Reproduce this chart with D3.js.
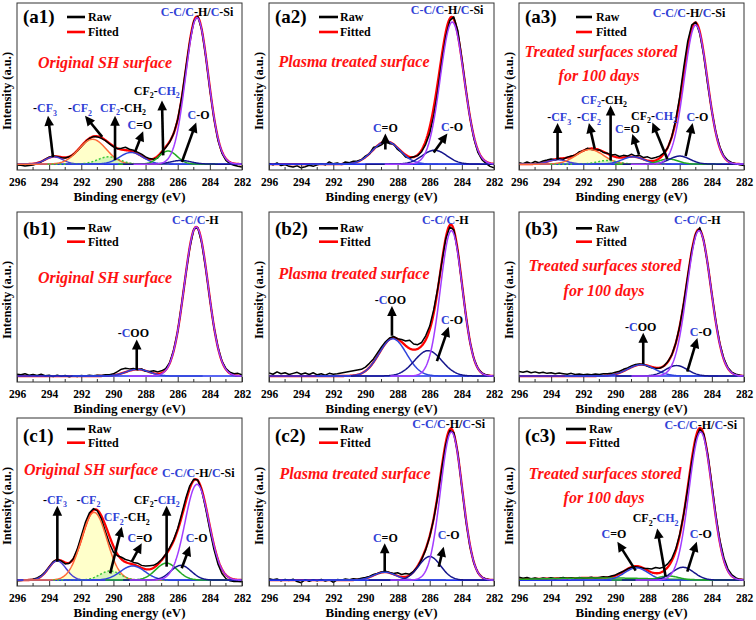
<!DOCTYPE html>
<html><head><meta charset="utf-8">
<script src="https://cdn.jsdelivr.net/npm/d3@7"></script>
<style>
body{margin:0;background:#fff}
svg{display:block}
svg text{font-family:"Liberation Serif","Tinos","Times New Roman","DejaVu Serif",serif;font-weight:bold}
</style>
</head><body>
<svg id="c" width="756" height="620"></svg>
<script>
// ---------------- DATA ----------------
const xTicks = [296,294,292,290,288,286,284,282];
const xMinor = [295,293,291,289,287,285,283];
// raw spectra sampled every 0.25 eV from 296 to 282 eV
const rawE = d3.range(57).map(i => 296 - 0.25*i);

// fitted peaks: [centre eV, height, FWHM eV, kind]
const peaksA1 = [[293.7,5,1.3,"cf3"],[291.3,17,2.0,"cf2"],[290.3,5,1.6,"dot"],[288.9,8,1.7,"ceo"],[286.6,9,1.3,"grn"],[285.8,2.5,1.5,"co"],[284.8,100,1.65,"cc"]];
const peaksA2 = [[288.7,15.5,2.0,"ceo"],[285.7,9.5,1.8,"co"],[284.6,97,1.75,"cc"]];
const peaksA3 = [[293.6,3,1.4,"cf3"],[291.6,10,2.0,"cf2"],[290.5,2.5,1.5,"dot"],[288.9,5,1.6,"ceo"],[286.7,3.5,1.4,"grn"],[286.0,5.5,1.5,"co"],[285.0,95,1.7,"cc"]];
const peaksB1 = [[288.5,4.5,1.7,"coo"],[284.85,100,1.75,"cc"]];
const peaksB2 = [[288.3,25,2.0,"coo"],[286.1,17,2.0,"co"],[284.65,97.5,1.6,"cc"]];
const peaksB3 = [[288.4,7.6,2.0,"coo"],[286.2,7,1.6,"co"],[284.8,97.5,1.75,"cc"]];
const peaksC1 = [[293.5,13,1.3,"cf3"],[291.2,46,1.85,"cf2"],[290.2,6.2,1.5,"dot"],[288.8,9.6,1.8,"ceo"],[286.7,11.5,1.6,"grn"],[285.8,10,1.5,"co"],[284.8,65,1.75,"cc"]];
const peaksC2 = [[288.8,5.4,1.6,"ceo"],[286.0,16,1.6,"co"],[284.65,100.5,1.6,"cc"]];
const peaksC3 = [[291.0,1.5,8,"bgg"],[288.7,8.3,1.7,"ceo"],[286.7,2.8,1.5,"grn"],[285.8,8.7,1.6,"co"],[284.7,100.5,1.7,"cc"]];

const rawA1 = [-0.5,-0.8,-1.2,-1.0,-0.6,0.2,1.5,3.2,4.8,5.6,5.0,4.4,4.2,5.0,6.5,9.0,12.0,15.0,17.5,18.8,18.6,17.6,16.0,13.8,11.8,10.5,10.8,11.5,10.2,9.5,8.2,6.8,5.0,3.8,3.4,4.2,8.0,11.2,15.0,21.0,30.5,45.5,65.0,83.5,97.5,101.0,91.5,73.0,51.0,31.5,16.5,7.5,2.5,0.3,-0.8,-1.5,-2.0];
const rawA2 = [0.5,-0.5,0.8,-1.0,-0.3,-1.5,-2.0,-1.2,-2.5,-1.8,-0.8,-1.5,-0.5,0.3,-0.5,1.5,0.2,0.8,-0.2,1.5,1.0,2.0,2.2,3.0,5.5,7.0,11.5,11.8,13.2,15.5,14.0,13.8,10.0,8.0,4.8,4.0,5.0,5.8,8.5,13.5,21.0,33.0,50.0,70.0,87.0,98.0,100.5,91.0,72.0,51.0,32.0,17.5,8.0,3.0,0.5,-1.5,-2.5];
const rawA3 = [1.0,0.3,1.5,0.5,1.8,1.0,2.2,2.8,3.5,2.8,3.6,3.2,4.8,5.5,6.0,8.5,9.0,10.8,10.0,9.5,9.8,8.0,7.5,6.2,6.5,5.2,6.0,5.5,6.8,5.5,6.0,4.5,5.0,3.8,4.5,5.5,7.5,11.0,18.5,30.0,46.0,66.0,84.0,95.0,97.0,89.0,74.0,54.0,36.0,21.5,11.5,5.5,2.5,1.0,0.3,-0.5,-1.0];
const rawB1 = [1.2,0.8,1.5,0.6,1.0,0.4,1.2,0.2,0.5,-0.3,0.6,-0.2,0.3,-0.5,0.2,-0.3,0.4,0.0,0.5,0.2,0.6,0.3,0.8,0.9,1.5,3.0,4.6,5.2,4.8,5.0,4.2,4.8,3.2,3.0,3.6,2.8,3.5,5.0,9.0,17.5,30.0,48.5,68.0,86.0,98.5,99.5,89.0,71.5,51.5,33.0,19.5,10.0,5.0,2.5,1.5,1.8,0.8];
const rawB2 = [2.0,1.2,2.8,1.5,2.2,1.0,1.8,2.5,1.2,2.0,1.0,2.2,0.8,1.5,0.6,1.8,1.2,1.5,2.0,2.5,3.0,3.5,4.0,4.5,6.0,8.5,11.5,15.5,19.5,23.0,25.5,26.5,25.0,24.5,23.5,24.0,21.5,21.0,22.5,27.0,33.5,44.5,59.0,76.0,92.0,100.0,98.0,83.5,62.0,40.5,23.0,11.5,5.0,2.0,0.8,0.2,0.0];
const rawB3 = [3.0,2.5,3.2,2.2,2.8,2.0,2.5,1.8,2.2,1.5,2.0,1.6,1.2,1.8,1.0,1.4,0.8,1.2,0.9,1.3,1.0,1.5,1.6,1.8,2.5,3.2,4.5,5.5,6.8,7.8,8.0,7.8,6.5,5.5,5.0,5.2,6.5,9.5,14.0,22.0,33.5,49.0,67.0,84.0,95.5,99.5,90.5,74.5,55.0,36.5,21.5,11.5,5.5,2.5,1.2,0.5,0.0];
const rawC1 = [-0.5,-0.3,0.0,0.3,0.6,1.5,3.0,5.5,9.0,12.5,14.0,13.0,11.0,11.5,14.5,21.0,30.0,39.0,45.5,48.5,47.0,41.5,33.0,25.0,19.0,16.5,15.5,14.0,13.2,12.0,11.5,10.0,9.5,9.8,10.0,11.5,14.0,17.5,22.0,27.5,35.0,45.0,55.5,64.0,68.5,68.0,60.5,48.0,34.0,21.0,11.0,4.5,1.0,-0.5,-1.0,-1.0,-1.2];
const rawC2 = [1.0,0.2,0.8,-0.5,0.5,-0.2,0.6,-1.0,-1.8,0.3,-0.8,0.2,-0.4,0.5,-0.6,0.3,-1.5,0.4,0.0,0.8,0.2,1.0,0.6,1.2,1.8,2.5,3.8,4.5,5.5,6.0,5.2,4.5,5.0,3.8,4.5,4.0,6.0,9.0,14.0,20.5,29.5,41.5,57.0,75.5,92.0,101.5,100.0,86.0,63.0,40.5,23.0,11.5,5.0,2.0,0.8,0.3,0.0];
const rawC3 = [2.0,1.2,1.8,1.0,1.5,0.8,1.4,1.0,1.6,0.9,1.3,1.8,1.1,1.6,1.0,1.7,1.2,1.5,1.9,1.3,1.8,2.2,2.0,2.8,3.5,4.8,6.0,7.5,8.6,9.0,8.5,8.0,7.8,7.5,8.5,8.0,8.8,11.0,14.5,21.0,31.0,45.0,62.0,80.0,95.5,102.5,99.0,85.0,65.0,44.0,27.0,15.0,7.5,3.5,1.5,0.5,0.2];

// annotation labels: [label key, eV, intensity]
const labA1 = [["CCSi",284.8,104],["CF3",294.26,38],["CF2",292.08,38],["CFCHa",289.4,38.5],["CEO",288.35,26.5],["CFCHb",287.3,50],["CO",284.7,33.4]];
const labA2 = [["CCSi",284.92,105],["CEO",288.76,24.4],["CO",284.61,25.5]];
const labA3 = [["CCSi",285.42,103],["CF3",293.5,32],["CF2",291.64,32],["CFCHa",290.71,44],["CEO",289.25,24],["CFCHb",287.6,33],["CO",284.9,32]];
const labB1 = [["CC",284.9,104.6],["COO",288.76,28.6]];
const labB2 = [["CC",285.03,104.6],["COO",288.45,51],["CO",284.61,37.6]];
const labB3 = [["CC",284.9,104.6],["COO",288.43,33],["CO",284.69,29.7]];
const labC1 = [["CCSi",284.72,72.9],["CF3",293.64,54.5],["CF2",291.56,54.5],["CFCHa",289.17,42.6],["CEO",288.35,28.4],["CFCHb",287.31,54.5],["CO",284.82,28.4]];
const labC2 = [["CCSi",284.82,105.9],["CEO",288.76,28.4],["CO",284.82,30.6]];
const labC3 = [["CCSi",284.69,105.2],["CEO",290.09,31.5],["CFCHb",287.5,41.9],["CO",284.69,31.5]];

// arrows: [tail eV, tail int, head eV, head int]
const arrA1 = [[293.76,4.8,294.07,33],[290.7,18.6,291.77,33],[289.9,2.7,289.9,33],[288.66,8.2,288.15,22.5],[286.9,6,286.98,43.5],[285.74,1.5,284.85,28.5]];
const arrA2 = [[288.76,10,288.76,21],[285.75,8,284.9,21]];
const arrA3 = [[293.6,3,293.6,28],[291.29,10.5,291.65,28],[290.3,2.5,290.3,40],[288.53,6.5,288.95,20.5],[286.77,3.5,287.7,28.5],[285.63,5.5,285.2,28]];
const arrB1 = [[288.55,4,288.55,24.5]];
const arrB2 = [[288.35,27,288.35,47],[285.55,10,284.82,33]];
const arrB3 = [[288.27,8,288.27,29],[285.53,3,284.9,25.5]];
const arrC1 = [[293.49,12.5,293.49,50.5],[290.2,4.6,289.48,36.2],[288.86,12.5,288.24,25],[286.69,9.1,286.69,50.5],[285.75,8,285.24,23.1]];
const arrC2 = [[288.8,6,288.8,25],[285.44,9.1,285.13,22.7]];
const arrC3 = [[288.74,6.4,289.88,26],[286.88,2.5,287.4,35.1],[285.53,5.7,284.94,26]];

const panelIds = ["(a1)","(a2)","(a3)","(b1)","(b2)","(b3)","(c1)","(c2)","(c3)"];
const noteOrig = ["Original SH surface"];
const notePlasma = ["Plasma treated surface"];
const noteStored = ["Treated surfaces stored","for 100 days"];
const legendNames = ["Raw","Fitted"];

// ---------------- STYLE / LAYOUT ----------------
const BLUE = "#3142d6";
const LBL = {
  CCSi:[["C-C/C","b"],["-H/","k"],["C","b"],["-Si","k"]],
  CC:[["C-C/C","b"],["-H","k"]],
  CO:[["C","b"],["-O","k"]],
  CEO:[["C","b"],["=O","k"]],
  CF3:[["-","k"],["CF","b"],["3","b",1]],
  CF2:[["-","k"],["CF","b"],["2","b",1]],
  CFCHa:[["CF","b"],["2","b",1],["-CH","k"],["2","k",1]],
  CFCHb:[["CF","k"],["2","k",1],["-","k"],["CH","b"],["2","b",1]],
  COO:[["-","k"],["C","b"],["OO","k"]]
};
const KIND = {
  cc:{c:"#a33cff"}, co:{c:"#15158c"}, ceo:{c:"#2f44dc"}, coo:{c:"#2f44dc"},
  cf3:{c:"#4a3fd2"}, cf2:{c:"#ff6a38",fill:"#ffffc4"}, dot:{c:"#3fc93a",fill:"#d4f5b6",dash:"2,2"},
  grn:{c:"#22aa22"}, bgg:{c:"#22aa22"}
};
const colL=[17,269,519], rowT=[3,212,418], rowH=[167,170,168], PW=225;
const legRowY=[[14,29],[16.3,29.7],[11,24.7]], idRowY=[13,16,17];
const FS = {tick:11.5, title:13, id:19, legend:12, note:16, label:12};

const panels = [
 {peaks:peaksA1,raw:rawA1,labs:labA1,arrs:arrA1,note:noteOrig,np:[[88,59]],lx:[50,68,71]},
 {peaks:peaksA2,raw:rawA2,labs:labA2,arrs:arrA2,note:notePlasma,np:[[85,58.7]],lx:[50,69,71]},
 {peaks:peaksA3,raw:rawA3,labs:labA3,arrs:arrA3,note:noteStored,np:[[82,48.7],[80,72]],lx:[57,73,77]},
 {peaks:peaksB1,raw:rawB1,labs:labB1,arrs:arrB1,note:noteOrig,np:[[88,65.7]],lx:[50,68,71]},
 {peaks:peaksB2,raw:rawB2,labs:labB2,arrs:arrB2,note:notePlasma,np:[[85,61.3]],lx:[50,69,71]},
 {peaks:peaksB3,raw:rawB3,labs:labB3,arrs:arrB3,note:noteStored,np:[[86,53.7],[85,78]],lx:[57,73,77]},
 {peaks:peaksC1,raw:rawC1,labs:labC1,arrs:arrC1,note:noteOrig,np:[[74,51.3]],lx:[50,68,71]},
 {peaks:peaksC2,raw:rawC2,labs:labC2,arrs:arrC2,note:notePlasma,np:[[86,55.3]],lx:[50,69,71]},
 {peaks:peaksC3,raw:rawC3,labs:labC3,arrs:arrC3,note:noteStored,np:[[86,55.3],[85,79.3]],lx:[47,67,70]}
];

const gauss = (e,p) => p[1]*Math.exp(-4*Math.LN2*((e-p[0])/p[2])**2);
const fine = d3.range(281).map(i => 296 - 0.05*i);

const svg = d3.select("#c");
const defs = svg.append("defs");

function rich(textSel, key, size){
  let sub = false;
  LBL[key].forEach(s => {
    const t = textSel.append("tspan").text(s[0]).attr("fill", s[1]==="b"?BLUE:"#000");
    if (s[2]) { t.attr("font-size", size*0.66); if(!sub) t.attr("dy", size*0.3); sub = true; }
    else if (sub) { t.attr("dy", -size*0.3); sub = false; }
  });
}

panels.forEach((P, k) => {
  const col = k % 3, row = Math.floor(k/3);
  const L = colL[col], T = rowT[row], H = rowH[row];
  const g = svg.append("g").attr("transform", `translate(${L},${T})`);
  const x = d3.scaleLinear().domain([296,282]).range([0,PW]);
  const y = d3.scaleLinear().domain([-4,110]).range([H,0]);

  defs.append("clipPath").attr("id","cp"+k).append("rect").attr("width",PW).attr("height",H);
  const plot = g.append("g").attr("clip-path",`url(#cp${k})`);

  // filled components
  P.peaks.filter(p => KIND[p[3]].fill).forEach(p => {
    const rng = fine.filter(e => Math.abs(e-p[0]) < 2.4*p[2]);
    plot.append("path").datum(rng)
      .attr("d", d3.area().x(e=>x(e)).y0(y(0)).y1(e=>y(gauss(e,p))))
      .attr("fill", KIND[p[3]].fill).attr("opacity",0.9);
  });

  // fitted envelope
  const fit = fine.map(e => [e, d3.sum(P.peaks, p => gauss(e,p))]);
  plot.append("path").datum(fit)
    .attr("d", d3.line().x(d=>x(d[0])).y(d=>y(d[1])))
    .attr("fill","none").attr("stroke","#ff0000").attr("stroke-width",2.3);

  // raw
  plot.append("path").datum(P.raw.map((v,i)=>[rawE[i],v]))
    .attr("d", d3.line().x(d=>x(d[0])).y(d=>y(d[1])))
    .attr("fill","none").attr("stroke","#000").attr("stroke-width",1.5).attr("stroke-linejoin","round");

  // baseline
  plot.append("line").attr("x1",0).attr("x2",PW).attr("y1",y(0)).attr("y2",y(0))
    .attr("stroke","#2233ee").attr("stroke-width",1.6);

  // components
  P.peaks.forEach(p => {
    const K = KIND[p[3]];
    const rng = p[3]==="bgg" ? fine : fine.filter(e => Math.abs(e-p[0]) < 2.4*p[2]);
    plot.append("path").datum(rng)
      .attr("d", d3.line().x(e=>x(e)).y(e=>y(gauss(e,p))))
      .attr("fill","none").attr("stroke",K.c).attr("stroke-width",1.5)
      .attr("stroke-dasharray",K.dash||null);
  });

  // frame
  g.append("rect").attr("width",PW).attr("height",H).attr("fill","none")
    .attr("stroke","#333").attr("stroke-width",1);

  // axis
  const ax = g.append("g").attr("transform",`translate(0,${H})`)
    .call(d3.axisBottom(x).tickValues(xTicks).tickFormat(d3.format("d"))
      .tickSizeInner(-5).tickSizeOuter(0).tickPadding(8));
  ax.select(".domain").remove();
  ax.selectAll("text").attr("font-size",FS.tick).attr("fill","#000");
  ax.selectAll("line").attr("stroke","#333");
  g.selectAll(".minor").data(xMinor).enter().append("line")
    .attr("x1",d=>x(d)).attr("x2",d=>x(d)).attr("y1",H).attr("y2",H-3).attr("stroke","#333");

  g.append("text").attr("x",PW/2).attr("y",H+26).attr("dy","0.35em").attr("text-anchor","middle")
    .attr("font-size",FS.title).text("Binding energy (eV)");
  g.append("text").attr("transform",`translate(-10.5,88) rotate(-90)`).attr("dy","0.35em")
    .attr("text-anchor","middle").attr("font-size",12.5).text("Intensity (a.u.)");

  // panel id + legend
  g.append("text").attr("x",6).attr("y",idRowY[row]).attr("dy","0.35em").attr("font-size",FS.id).text(panelIds[k]);
  const ly = legRowY[row];
  [["#000",ly[0]],["#ff0000",ly[1]]].forEach((c,i) => {
    g.append("line").attr("x1",P.lx[0]).attr("x2",P.lx[1]).attr("y1",c[1]).attr("y2",c[1])
      .attr("stroke",c[0]).attr("stroke-width",2.6);
    g.append("text").attr("x",P.lx[2]).attr("y",c[1]).attr("dy","0.33em").attr("font-size",FS.legend).text(legendNames[i]);
  });

  // red note
  P.note.forEach((t,i) => {
    g.append("text").attr("x",P.np[i][0]).attr("y",P.np[i][1]).attr("dy","0.35em")
      .attr("text-anchor","middle").attr("font-size",FS.note).attr("font-style","italic")
      .attr("fill","#ff1111").text(t);
  });

  // arrows
  P.arrs.forEach(a => {
    const x1=x(a[0]), y1=y(a[1]), x2=x(a[2]), y2=y(a[3]);
    const len = Math.hypot(x2-x1,y2-y1), ux=(x2-x1)/len, uy=(y2-y1)/len;
    const hl = 10, hw = 4.8;
    g.append("line").attr("x1",x1).attr("y1",y1).attr("x2",x2-ux*(hl-1)).attr("y2",y2-uy*(hl-1))
      .attr("stroke","#000").attr("stroke-width",2.6);
    const bx=x2-ux*hl, by=y2-uy*hl;
    g.append("path").attr("d",`M${x2},${y2}L${bx-uy*hw},${by+ux*hw}L${bx+uy*hw},${by-ux*hw}Z`).attr("fill","#000");
  });

  // labels
  P.labs.forEach(l => {
    const t = g.append("text").attr("x",x(l[1])).attr("y",y(l[2])+4)
      .attr("text-anchor","middle").attr("font-size",FS.label);
    rich(t, l[0], FS.label);
  });
});
</script>
</body></html>
